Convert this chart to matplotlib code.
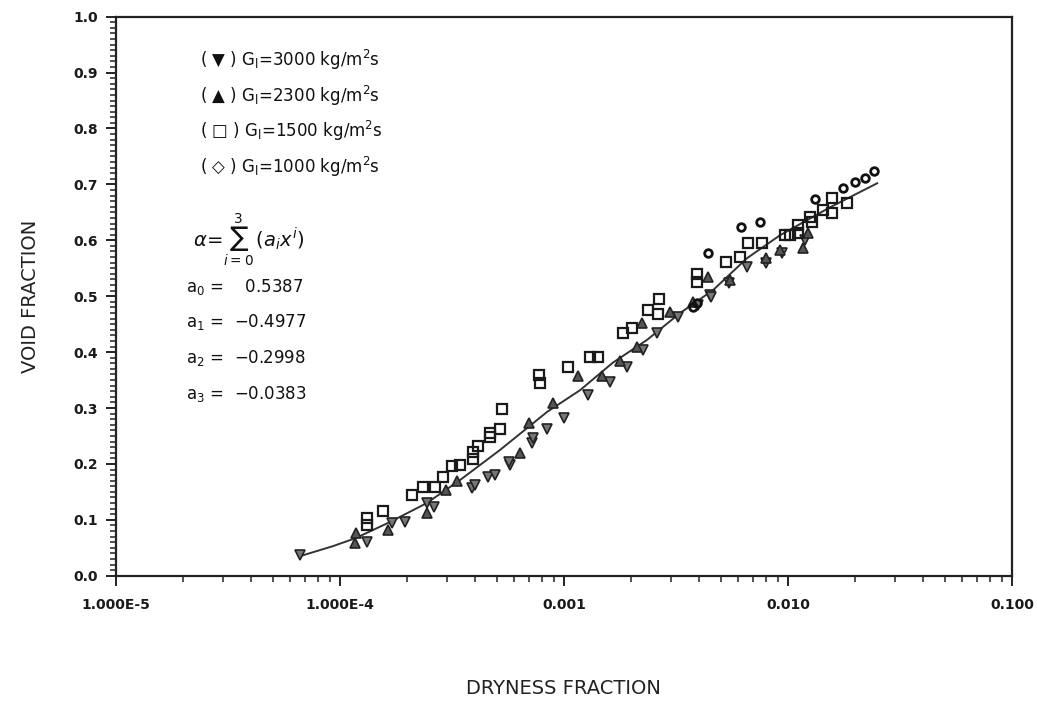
import numpy as np
import matplotlib
matplotlib.use("Agg")
from matplotlib import pyplot as plt
from matplotlib.ticker import LogLocator, MultipleLocator, FixedFormatter, FixedLocator, NullFormatter

# fitted correlation line
fit_x = [6.63e-5, 9.31e-5, 1.17e-4, 1.67e-4, 2.44e-4, 3.43e-4, 5.18e-4, 8.40e-4, 1.18e-3,
         1.65e-3, 2.35e-3, 3.30e-3, 4.63e-3, 6.56e-3, 9.21e-3, 1.54e-2, 2.50e-2]
fit_y = [0.035, 0.053, 0.067, 0.096, 0.130, 0.171, 0.225, 0.293, 0.332,
         0.381, 0.422, 0.470, 0.511, 0.568, 0.609, 0.659, 0.702]

# G_l = 3000 kg/m2s
g3000_x = [6.63e-5, 1.32e-4, 1.71e-4, 1.95e-4, 2.44e-4, 2.63e-4, 3.88e-4, 4.01e-4, 4.58e-4,
           4.92e-4, 5.74e-4, 5.68e-4, 7.20e-4, 7.27e-4, 8.40e-4, 1.00e-3, 1.28e-3, 1.60e-3,
           1.91e-3, 2.25e-3, 2.60e-3, 3.23e-3, 3.97e-3, 4.49e-3, 4.53e-3, 5.45e-3, 6.56e-3,
           7.98e-3, 9.40e-3, 1.19e-2]
g3000_y = [0.037, 0.061, 0.095, 0.097, 0.130, 0.123, 0.157, 0.162, 0.177,
           0.180, 0.198, 0.203, 0.237, 0.246, 0.262, 0.282, 0.323, 0.346,
           0.373, 0.404, 0.434, 0.463, 0.484, 0.502, 0.498, 0.523, 0.552,
           0.559, 0.577, 0.601]

# G_l = 2300 kg/m2s
g2300_x = [1.17e-4, 1.18e-4, 1.64e-4, 2.44e-4, 2.97e-4, 3.33e-4, 6.37e-4, 6.98e-4, 8.93e-4,
           1.15e-3, 1.48e-3, 1.78e-3, 2.23e-3, 2.12e-3, 2.97e-3, 3.77e-3, 4.40e-3, 5.51e-3,
           7.98e-3, 9.21e-3, 1.17e-2, 1.23e-2]
g2300_y = [0.058, 0.077, 0.081, 0.112, 0.153, 0.170, 0.220, 0.274, 0.309,
           0.357, 0.357, 0.384, 0.452, 0.409, 0.472, 0.490, 0.535, 0.529,
           0.568, 0.583, 0.586, 0.613]

# G_l = 1500 kg/m2s
g1500_x = [1.32e-4, 1.32e-4, 1.56e-4, 2.10e-4, 2.35e-4, 2.66e-4, 2.88e-4, 3.16e-4, 3.43e-4,
           3.93e-4, 3.93e-4, 4.13e-4, 4.67e-4, 4.67e-4, 5.18e-4, 5.28e-4, 7.73e-4, 7.80e-4,
           1.04e-3, 1.31e-3, 1.42e-3, 1.83e-3, 2.01e-3, 2.37e-3, 2.63e-3, 2.66e-3, 3.93e-3,
           3.93e-3, 5.29e-3, 6.10e-3, 6.63e-3, 7.65e-3, 9.70e-3, 1.02e-2, 1.11e-2, 1.11e-2,
           1.25e-2, 1.28e-2, 1.43e-2, 1.57e-2, 1.57e-2, 1.83e-2]
g1500_y = [0.103, 0.090, 0.116, 0.145, 0.159, 0.159, 0.177, 0.196, 0.198,
           0.209, 0.221, 0.232, 0.255, 0.248, 0.262, 0.298, 0.359, 0.345,
           0.373, 0.391, 0.391, 0.434, 0.443, 0.475, 0.468, 0.495, 0.540,
           0.525, 0.561, 0.570, 0.595, 0.595, 0.609, 0.609, 0.627, 0.613,
           0.641, 0.633, 0.654, 0.676, 0.649, 0.667]

# G_l = 1000 kg/m2s
g1000_x = [3.77e-3, 3.93e-3, 4.40e-3, 6.17e-3, 7.50e-3, 1.32e-2, 1.76e-2, 1.99e-2, 2.21e-2, 2.42e-2]
g1000_y = [0.480, 0.487, 0.577, 0.624, 0.633, 0.673, 0.694, 0.704, 0.711, 0.724]

legend_lines = ["( \u25bc ) G$_\\mathrm{l}$=3000 kg/m$^2$s",
                "( \u25b2 ) G$_\\mathrm{l}$=2300 kg/m$^2$s",
                "( \u25a1 ) G$_\\mathrm{l}$=1500 kg/m$^2$s",
                "( \u25c7 ) G$_\\mathrm{l}$=1000 kg/m$^2$s"]
coef_lines = ["a$_0$ =    0.5387",
              "a$_1$ =  \u22120.4977",
              "a$_2$ =  \u22120.2998",
              "a$_3$ =  \u22120.0383"]
xtick_vals = [1e-5, 1e-4, 1e-3, 1e-2, 1e-1]
xtick_text = ["1.000E-5", "1.000E-4", "0.001", "0.010", "0.100"]


def plot_void_fraction():
    """Void fraction against dryness fraction on a log x axis"""
    fig = plt.figure(figsize=(10.37, 7.04), dpi=100)
    ax = fig.add_axes([0.1119, 0.1822, 0.8640, 0.7941])

    ax.plot(fit_x, fit_y, color="#333333", lw=1.4, zorder=2)
    ax.plot(g3000_x, g3000_y, 'v', ms=6.5, mfc="#777777", mec="#222222", mew=1.2, zorder=3)
    ax.plot(g2300_x, g2300_y, '^', ms=6.5, mfc="#555555", mec="#222222", mew=1.2, zorder=3)
    ax.plot(g1500_x, g1500_y, 's', ms=6.5, mfc="none", mec="#1a1a1a", mew=1.6, zorder=3)
    ax.plot(g1000_x, g1000_y, 'o', ms=5.5, mfc="none", mec="#111111", mew=2.0, zorder=3)

    ax.set_xscale('log')
    ax.set_xlim(1e-5, 0.1)
    ax.set_ylim(0.0, 1.0)

    ax.xaxis.set_major_locator(FixedLocator(xtick_vals))
    ax.xaxis.set_major_formatter(FixedFormatter(xtick_text))
    ax.xaxis.set_minor_locator(LogLocator(base=10, subs=np.arange(2, 10)))
    ax.xaxis.set_minor_formatter(NullFormatter())
    ax.yaxis.set_major_locator(MultipleLocator(0.1))
    ax.yaxis.set_minor_locator(MultipleLocator(0.01))
    ax.set_yticklabels(["%.1f" % v for v in ax.get_yticks()])

    ax.tick_params(which='major', direction='out', length=7, width=1.4, color="#222222",
                   labelsize=10, pad=6)
    ax.tick_params(which='minor', direction='out', length=4, width=1.1, color="#222222")
    ax.tick_params(axis='x', which='major', pad=9)
    ax.tick_params(top=False, right=False, which='both')
    for lab in ax.get_xticklabels() + ax.get_yticklabels():
        lab.set_fontweight('bold')
        lab.set_color("#1a1a1a")
    for sp in ax.spines.values():
        sp.set_linewidth(1.6)
        sp.set_color("#222222")

    ax.set_xlabel("DRYNESS FRACTION", fontsize=14, color="#222222")
    ax.xaxis.set_label_coords(0.499, -0.185)
    ax.set_ylabel("VOID FRACTION", fontsize=14, color="#222222")
    ax.yaxis.set_label_coords(-0.085, 0.5)

    for i, t in enumerate(legend_lines):
        fig.text(200 / 1037, 1 - (60 + 35.5 * i) / 704, t, fontsize=12, va='center', ha='left',
                 color="#111111")
    fig.text(193 / 1037, 1 - 240 / 704, r"$\alpha\!=\!\sum_{i=0}^{3}\,(a_i x^i)$", fontsize=14,
             va='center', ha='left', color="#111111")
    for i, t in enumerate(coef_lines):
        fig.text(186 / 1037, 1 - (287 + 35.5 * i) / 704, t, fontsize=12, va='center', ha='left',
                 color="#111111")

    fig.savefig("out.png", dpi=100)


if __name__ == "__main__":
    plot_void_fraction()
